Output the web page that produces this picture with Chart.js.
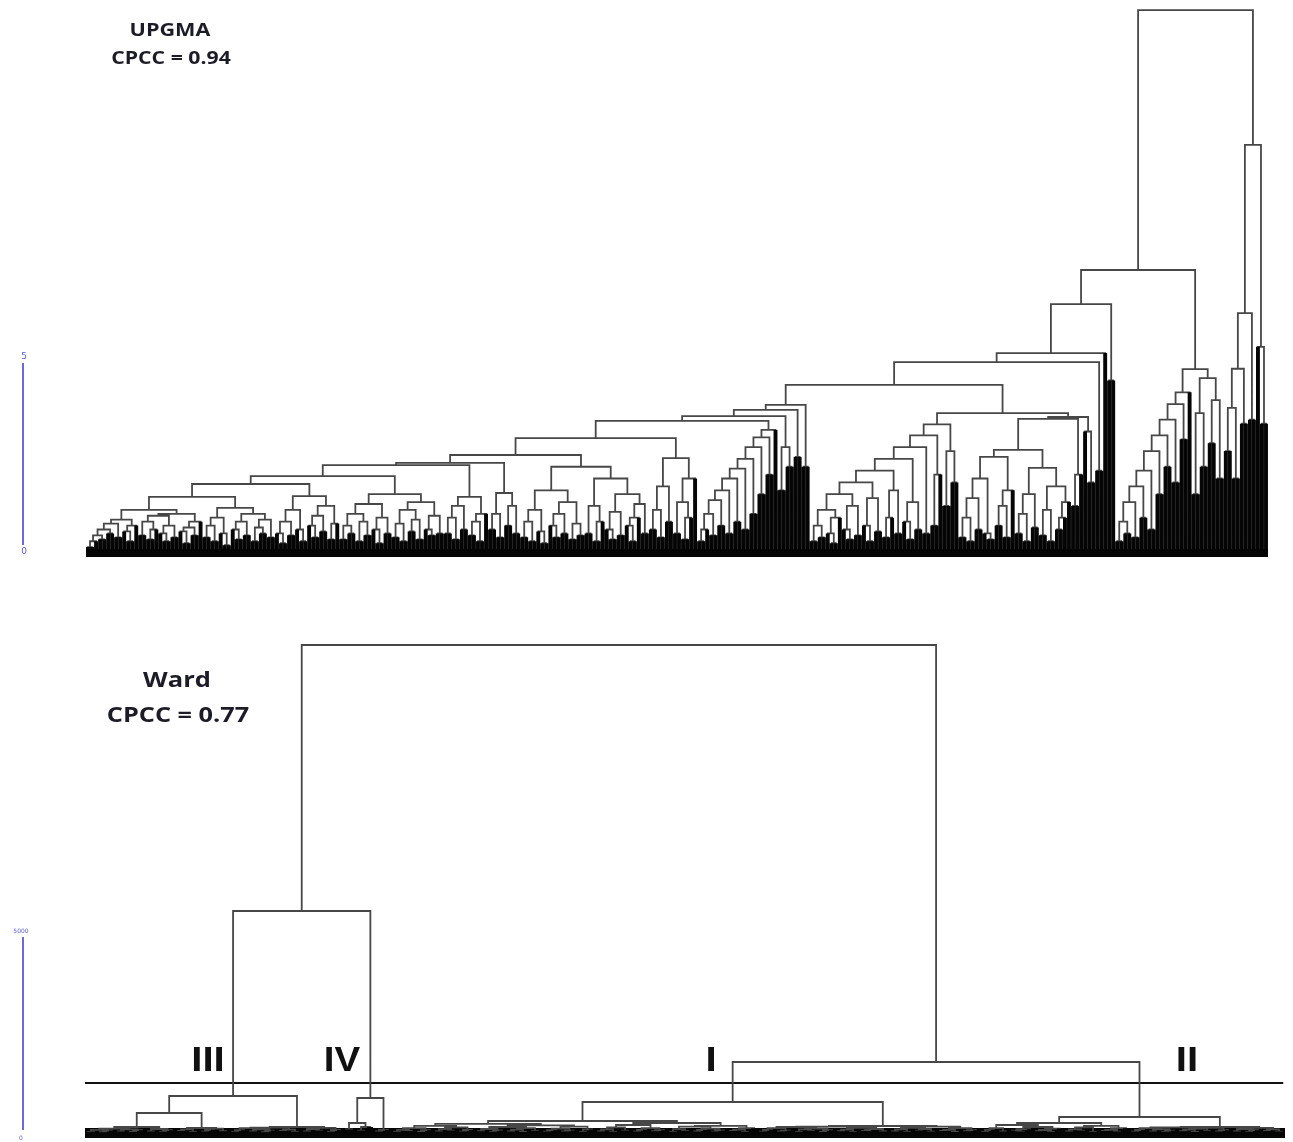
<!DOCTYPE html>
<html>
<head>
<meta charset="utf-8">
<script src="https://cdn.jsdelivr.net/npm/chart.js@4.4.1/dist/chart.umd.min.js"></script>
<style>
  html, body { margin: 0; padding: 0; background: #fff; }
  #wrap { position: relative; width: 1293px; height: 1142px; overflow: hidden; }
  #wrap canvas { position: absolute; left: 0; }
  .lbl { position: absolute; white-space: nowrap; line-height: 1;
         font-family: 'Open Sans', sans-serif; font-weight: 700; color: #1c1c28; }
  .num { font-family: 'Liberation Sans', sans-serif; color: #111; }
  .bar { font-family: 'DejaVu Sans', sans-serif; font-weight: 400; color: #5b5bd6; }
</style>
</head>
<body>
<div id="wrap">
  <canvas id="upgma" width="1293" height="570" style="top:0"></canvas>
  <canvas id="ward" width="1293" height="572" style="top:570px"></canvas>

  <div class="lbl" style="left:170px;top:29px;font-size:18px;transform:translate(-50%,-50%) scaleX(1.2)">UPGMA</div>
  <div class="lbl" style="left:171px;top:57px;font-size:18px;transform:translate(-50%,-50%) scaleX(1.18)">CPCC = 0.94</div>
  <div class="lbl" style="left:177px;top:678px;font-size:22px;transform:translate(-50%,-50%) scaleX(1.16)">Ward</div>
  <div class="lbl" style="left:178px;top:713px;font-size:22px;transform:translate(-50%,-50%) scaleX(1.15)">CPCC = 0.77</div>

  <div class="lbl num" style="left:208px;top:1058px;font-size:35px;transform:translate(-50%,-50%) scaleX(1.15)">III</div>
  <div class="lbl num" style="left:342px;top:1058px;font-size:35px;transform:translate(-50%,-50%) scaleX(1.1)">IV</div>
  <div class="lbl num" style="left:711px;top:1058px;font-size:35px;transform:translate(-50%,-50%) scaleX(1.15)">I</div>
  <div class="lbl num" style="left:1187px;top:1058px;font-size:35px;transform:translate(-50%,-50%) scaleX(1.15)">II</div>

  <div class="lbl bar" style="left:24px;top:356px;font-size:9px;transform:translate(-50%,-50%)">5</div>
  <div class="lbl bar" style="left:24px;top:551px;font-size:9px;transform:translate(-50%,-50%)">0</div>
  <div class="lbl bar" style="left:21px;top:931px;font-size:6px;transform:translate(-50%,-50%)">5000</div>
  <div class="lbl bar" style="left:21px;top:1138px;font-size:6px;transform:translate(-50%,-50%)">0</div>
</div>

<script>
// UPGMA tree: merge height between each pair of neighbouring leaves (scale bar units)
// lowest clades, left to right
const upC151  = [0.15, 0.3, 0.45, 0.35, 0.6, 0.5, 0.75, 0.4, 0.85, 0.55, 0.3, 0.7, 1.1, 0.45, 0.8, 0.35, 0.6, 0.95, 0.5, 0.3, 0.7, 0.4, 1.0, 0.55, 0.25, 0.65, 0.45, 0.8];
const upC244  = [0.4, 0.7, 0.3, 0.9, 0.5, 0.2, 1.15, 0.6, 0.35, 0.8, 0.45, 1.0, 0.3, 0.65, 0.5, 0.85, 0.4];
const upC307  = [0.5, 0.25, 0.8, 0.45, 1.1, 0.6, 0.3, 1.45, 0.7, 0.4, 0.95, 0.55, 1.2, 0.35, 0.75];
const upC407  = [0.35, 0.7, 0.5, 1.0, 0.3, 0.8, 0.45, 1.25, 0.6, 0.25, 0.9, 0.5, 1.5, 0.4, 0.75, 0.3, 1.1, 0.55, 0.85, 0.35, 1.3, 0.6, 0.45, 0.95, 0.5];
const upC468  = [0.5, 0.9, 0.35, 1.2, 0.6, 1.43, 0.45, 0.8, 0.3, 1.0];
const upC491  = [0.6, 1.0, 0.4, 1.53, 0.7, 1.2, 0.5];
const upC607  = [0.4, 0.8, 0.3, 1.1, 0.55, 0.25, 1.6, 0.7, 0.4, 1.0, 0.5, 1.3, 0.35, 0.75, 0.45, 2.2,
                 0.5, 1.2, 0.3, 0.8, 1.9, 0.6, 0.35, 1.05, 0.45, 1.5, 0.7, 0.3, 0.9, 1.25, 0.5];
const upC677  = [0.6, 1.1, 0.4, 1.7, 0.8, 2.42, 0.5, 1.3, 0.35, 0.9, 1.9];
const upC768  = [0.3, 0.6, 1.0, 0.45, 1.35, 0.7, 1.6, 0.5, 1.9, 0.8, 2.15, 0.6, 2.4, 1.0, 2.7, 1.5, 2.95, 2.0, 3.14];
const upC791  = [1.6, 2.7, 2.2];
const upC809  = [2.45];
const upC810  = [2.2];
const upC919  = [0.3, 0.7, 0.4, 1.1, 0.5, 0.25, 0.9, 1.5, 0.6, 0.35, 1.2, 0.45, 1.8, 0.7, 0.3, 1.4, 0.55, 2.1,
                 0.4, 0.9, 1.6, 0.5, 2.4, 0.8, 0.35, 1.3, 0.6, 2.7, 0.5, 3.0, 0.7, 2.0];
const upC948  = [1.2, 2.6, 1.8];
const upC1030 = [0.4, 0.9, 0.3, 1.4, 0.6, 1.9, 0.5, 0.35, 2.45, 0.7, 1.2, 0.4, 1.6, 2.63,
                 0.5, 1.0, 0.3, 1.5, 0.65, 2.17, 0.45, 1.1, 0.3, 1.7, 0.6, 0.9, 1.3];
const upC1093 = [1.2, 2.0];
const upC1102 = [3.1, 1.8];
const upC1110 = [2.1];
const upC1112 = [];
const upC1114 = [4.4];
const upC1173 = [0.3, 0.8, 0.5, 1.3, 0.4, 1.7, 0.9, 2.1, 0.6, 2.6, 1.5, 3.0, 2.2, 3.4, 1.8, 3.8, 2.9, 4.1];
const upC1212 = [1.5, 3.57, 2.2, 4.46, 2.8, 3.9, 1.9];
const upR1a   = [2.6, 3.7, 1.9, 4.7, 3.3];
const upR1b   = [3.4];
const upR2    = [5.26, 3.3];

// joins between the clades above
const upgmaGaps = [].concat(
  upC151, 1.43, upC244, 1.76, upC307, 1.96, upC407, 2.24, upC468, 2.30, upC491, 2.50,
  upC607, 2.93, upC677, 3.37, upC768, 3.49, upC791, 3.65, upC809, 3.78, upC810, 4.29,
  upC919, 3.28, upC948, 3.57, upC1030, 3.42, upC1093, 3.47, upC1102, 4.87,
  upC1110, 5.10, upC1112, 6.35, upC1114, 7.22, upC1173, 4.69, upC1212, 13.85,
  upR1a, 6.12, upR1b, 10.41, upR2
);

// Ward tree (scale bar units, bar = 5000)
const wd133  = [30, 80, 20, 60, 110, 40, 90, 25, 70];
const wd160  = [40, 100, 30, 70];
const wd183  = [50, 90, 30];
const wd209  = [35, 80, 110, 45];
const wd265  = [30, 70, 120, 40, 90, 20, 60, 135, 50, 85, 30];
const wd327  = [40, 100, 60, 130, 30, 75];
const wd352  = [90];
const wd370  = [60, 150];
const wd382  = [40, 80];
const wd502  = [30, 80, 50, 120, 25, 70, 180, 40, 95, 60, 140, 35, 75, 230, 45, 100, 30, 65, 150, 40, 85, 25, 120, 55, 190, 35, 70, 110, 40, 60, 160, 30, 90];
const wd695  = [40, 90, 30, 140, 60, 200, 35, 80, 120, 45, 70, 250, 30, 95, 55, 160, 40, 75, 110, 35, 65, 180, 50, 85, 30, 120];
const wd828  = [35, 80, 120, 40, 60, 150, 30, 90, 55, 110, 25, 70, 160, 45, 85, 30, 130, 50, 75, 100, 40];
const wd933  = [40, 90, 30, 130, 60, 100, 35, 160, 50, 80, 25, 120, 45, 70];
const wd1031 = [30, 80, 120, 40, 200, 60, 35, 95, 150, 45, 75, 30, 110];
const wd1095 = [40, 90, 60, 140, 30, 180, 50, 80, 35, 120];
const wd1192 = [35, 75, 120, 40, 90, 30, 60, 140, 45, 85, 25, 110, 55, 130, 40, 70];
const wd1260 = [40, 100, 30, 70, 130, 50, 90, 35];

const wardGaps = [].concat(
  wd133, 150, wd160, 500, wd183, 125, wd209, 925, wd265, 150, wd327, 5550,
  wd352, 250, wd370, 875, wd382, 12200,
  wd502, 300, wd695, 775, wd828, 175, wd933, 1775,
  wd1031, 250, wd1095, 400, wd1192, 150, wd1260
);
const wardCut = 1250;

// turn neighbour merge heights into dendrogram segments (x = leaf index)
// terminal branches are kept apart so they can be drawn heavier, like the packed leaf fringe
function buildTree(gaps) {
  const segs = [];
  const tips = [];
  function walk(lo, hi) {
    if (lo === hi) return { x: lo, h: 0 };
    let k = lo;
    for (let i = lo + 1; i < hi; i++) {
      if (gaps[i] > gaps[k]) k = i;
    }
    const a = walk(lo, k);
    const b = walk(k + 1, hi);
    const h = gaps[k];
    segs.push({ x: a.x, y: a.h }, { x: a.x, y: h }, { x: b.x, y: h }, { x: b.x, y: b.h }, { x: NaN, y: NaN });
    if (lo === k) tips.push({ x: a.x, y: 0 }, { x: a.x, y: h }, { x: NaN, y: NaN });
    if (k + 1 === hi) tips.push({ x: b.x, y: 0 }, { x: b.x, y: h }, { x: NaN, y: NaN });
    return { x: (a.x + b.x) / 2, h: h };
  }
  walk(0, gaps.length);
  return { segs: segs, tips: tips };
}

const W = 1293;

function scaleBar(barMax, top, bottom) {
  return {
    id: 'scaleBar',
    afterDraw(chart) {
      const y = chart.scales.y;
      const c = chart.ctx;
      c.save();
      c.strokeStyle = '#6a6ad8';
      c.lineWidth = 2;
      c.beginPath();
      c.moveTo(23, y.getPixelForValue(0) - bottom);
      c.lineTo(23, y.getPixelForValue(barMax) + top);
      c.stroke();
      c.restore();
    }
  };
}

function treeChart(id, gaps, o) {
  const n = gaps.length + 1;
  const step = (o.rightPx - o.leftPx) / (n - 1);
  const canvas = document.getElementById(id);
  const H = canvas.height;
  const tree = buildTree(gaps);
  const datasets = [
    {
      data: tree.tips,
      showLine: true, spanGaps: false, pointRadius: 0,
      borderColor: '#050505', borderWidth: o.tipWidth, borderCapStyle: 'butt'
    },
    {
      data: tree.segs,
      showLine: true, spanGaps: false, pointRadius: 0,
      borderColor: '#474747', borderWidth: 1.8
    },
    {
      data: [{ x: -0.5, y: 0 }, { x: n - 0.5, y: 0 }],
      showLine: true, pointRadius: 0,
      borderColor: '#050505', borderWidth: o.band
    }
  ];
  if (o.cut !== undefined) {
    datasets.push({
      data: [{ x: -0.5, y: o.cut }, { x: n - 0.8, y: o.cut }],
      showLine: true, pointRadius: 0,
      borderColor: '#111', borderWidth: 2
    });
  }
  return new Chart(canvas, {
    type: 'scatter',
    data: { datasets: datasets },
    options: {
      responsive: false,
      animation: false,
      events: [],
      layout: { padding: 0 },
      plugins: { legend: { display: false }, tooltip: { enabled: false } },
      scales: {
        x: { type: 'linear', display: false, min: -o.leftPx / step, max: (n - 1) + (W - o.rightPx) / step },
        y: { type: 'linear', display: false, min: -(H - o.basePx) / o.pxPerUnit, max: o.basePx / o.pxPerUnit }
      }
    },
    plugins: [scaleBar(o.barMax, o.barTop, o.barBottom)]
  });
}

treeChart('upgma', upgmaGaps, {
  leftPx: 88, rightPx: 1266, basePx: 553, pxPerUnit: 39.2, band: 8, tipWidth: 3.9,
  barMax: 5, barTop: 6, barBottom: 8
});
treeChart('ward', wardGaps, {
  leftPx: 88, rightPx: 1282, basePx: 563, pxPerUnit: 0.04, band: 10, tipWidth: 6, cut: wardCut,
  barMax: 5000, barTop: 4, barBottom: 3
});
</script>
</body>
</html>
